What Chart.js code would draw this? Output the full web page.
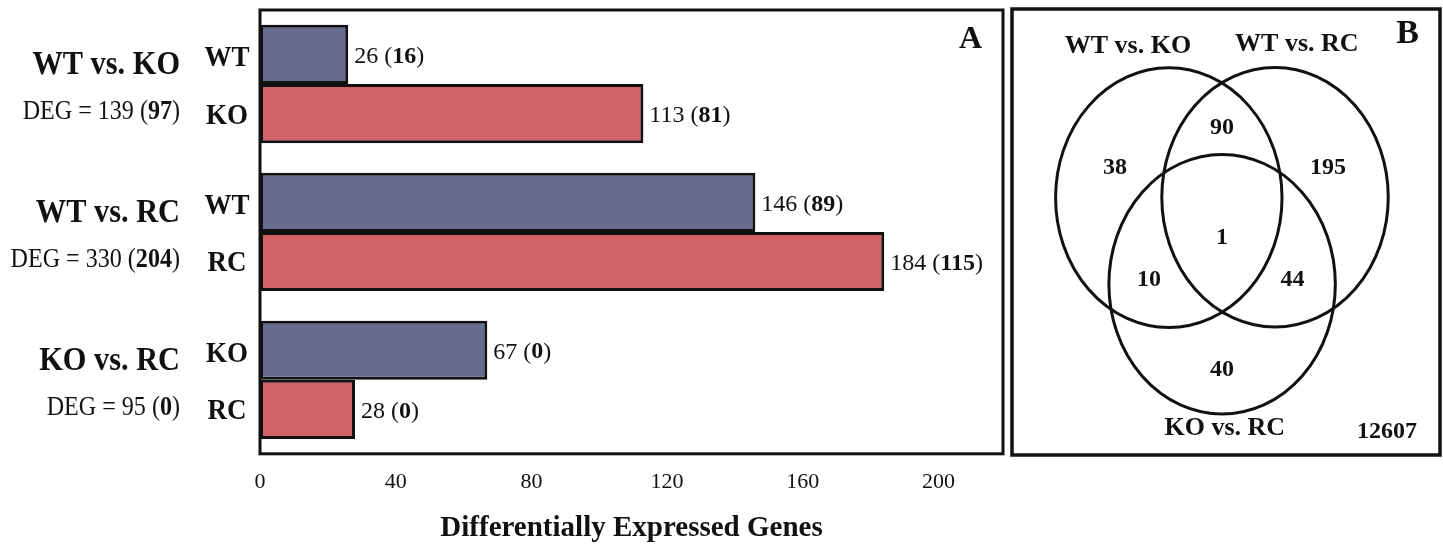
<!DOCTYPE html>
<html>
<head>
<meta charset="utf-8">
<script src="https://cdn.jsdelivr.net/npm/chart.js@4.4.1/dist/chart.umd.min.js"></script>
<style>
  html, body { margin: 0; padding: 0; background: #fff; }
  #wrap { position: relative; width: 1443px; height: 546px; overflow: hidden; }
  #barChart { position: absolute; left: 0; top: 0; }
  #vennChart { position: absolute; left: 1010px; top: 7px; }
</style>
</head>
<body>
<div id="wrap">
  <canvas id="barChart" width="1008" height="546"></canvas>
  <canvas id="vennChart" width="432" height="450"></canvas>
</div>
<script>
// --- Data: panel A ---
const comparisons = ['WT vs. KO', 'WT vs. RC', 'KO vs. RC'];
const firstGroup = ['WT', 'WT', 'KO'];
const secondGroup = ['KO', 'RC', 'RC'];
const firstCounts = [26, 146, 67];
const firstBold = [16, 89, 0];
const secondCounts = [113, 184, 28];
const secondBold = [81, 115, 0];
const degTotals = [139, 330, 95];
const degBold = [97, 204, 0];
const xTicks = [0, 40, 80, 120, 160, 200];

// --- Data: panel B (Venn) ---
const vennSets = ['WT vs. KO', 'WT vs. RC', 'KO vs. RC'];
const vennRegions = [38, 90, 195, 1, 10, 44, 40];
const vennOutside = 12607;

// layout of the Venn (data units of the venn chart)
const vennCenters = [{ x: 40.3, y: 57.7 }, { x: 67.6, y: 57.8 }, { x: 54.0, y: 38.3 }];
const vennRadius = 29.1;
const vennSetPos = [{ x: 29.8, y: 91.7 }, { x: 73.2, y: 92.2 }, { x: 54.7, y: 6.1 }];
const vennRegionPos = [
    { x: 26.5, y: 64.3 }, { x: 54.0, y: 73.3 }, { x: 81.2, y: 64.3 }, { x: 54.0, y: 48.6 },
    { x: 35.2, y: 39.2 }, { x: 72.1, y: 39.2 }, { x: 54.0, y: 19.1 }
];
const vennOutsidePos = { x: 96.4, y: 5.2 };

const SERIF = '"Liberation Serif", "Times New Roman", serif';
const INK = '#111111';

// draws "a (b)" with b in bold, squeezed horizontally by sx
function drawMixed(ctx, x, y, plain, bold, size, align, sx = 1) {
    const normalFont = `${size}px ${SERIF}`;
    const boldFont = `bold ${size}px ${SERIF}`;
    ctx.font = normalFont;
    const w1 = ctx.measureText(plain + ' (').width;
    ctx.font = boldFont;
    const w2 = ctx.measureText(String(bold)).width;
    ctx.font = normalFont;
    const w3 = ctx.measureText(')').width;
    const total = (w1 + w2 + w3) * sx;
    const start = align === 'right' ? x - total : x;
    ctx.save();
    ctx.translate(start, y);
    ctx.scale(sx, 1);
    ctx.textAlign = 'left';
    ctx.font = normalFont;
    ctx.fillText(plain + ' (', 0, 0);
    ctx.font = boldFont;
    ctx.fillText(String(bold), w1, 0);
    ctx.font = normalFont;
    ctx.fillText(')', w1 + w2, 0);
    ctx.restore();
}

function drawSqueezed(ctx, text, x, y, font, align, sx) {
    ctx.save();
    ctx.translate(x, y);
    ctx.scale(sx, 1);
    ctx.font = font;
    ctx.textAlign = align;
    ctx.fillText(text, 0, 0);
    ctx.restore();
}

// --- Panel A plugin: frame, labels ---
const barDecor = {
    id: 'barDecor',
    afterDatasetsDraw(chart) {
        const { ctx, chartArea } = chart;
        const yScale = chart.scales.y;
        ctx.save();
        ctx.fillStyle = INK;

        // frame
        ctx.strokeStyle = INK;
        ctx.lineWidth = 3;
        ctx.strokeRect(chartArea.left, chartArea.top, chartArea.right - chartArea.left, chartArea.bottom - chartArea.top);

        // value labels
        ctx.textBaseline = 'middle';
        const boldSets = [firstBold, secondBold];
        chart.data.datasets.forEach((ds, di) => {
            chart.getDatasetMeta(di).data.forEach((el, i) => {
                drawMixed(ctx, el.x + 6, el.y + 2, String(ds.data[i]), boldSets[di][i], 24, 'left');
            });
        });

        // left side labels
        ctx.textBaseline = 'alphabetic';
        comparisons.forEach((name, i) => {
            const yc = yScale.getPixelForValue(i);
            drawSqueezed(ctx, name, 180, yc - 10, `bold 33px ${SERIF}`, 'right', 0.92);
            drawMixed(ctx, 180, yc + 35, 'DEG = ' + degTotals[i], degBold[i], 28, 'right', 0.86);

            const e0 = chart.getDatasetMeta(0).data[i];
            const e1 = chart.getDatasetMeta(1).data[i];
            drawSqueezed(ctx, firstGroup[i], 227, e0.y + 12, `bold 30px ${SERIF}`, 'center', 0.9);
            drawSqueezed(ctx, secondGroup[i], 227, e1.y + 10, `bold 30px ${SERIF}`, 'center', 0.9);
        });

        // panel letter
        ctx.textAlign = 'right';
        ctx.font = `bold 32px ${SERIF}`;
        ctx.fillText('A', chartArea.right - 21, chartArea.top + 38);
        ctx.restore();
    }
};

new Chart(document.getElementById('barChart'), {
    type: 'bar',
    data: {
        labels: comparisons,
        datasets: [
            { data: firstCounts, backgroundColor: '#666c8e', borderColor: INK, borderWidth: 3, borderSkipped: false },
            { data: secondCounts, backgroundColor: '#d36266', borderColor: INK, borderWidth: 3, borderSkipped: false }
        ]
    },
    options: {
        indexAxis: 'y',
        responsive: false,
        animation: false,
        categoryPercentage: 0.8,
        barPercentage: 1.0,
        layout: { padding: { left: 260, top: 10, right: 5, bottom: 0 } },
        plugins: { legend: { display: false }, tooltip: { enabled: false } },
        scales: {
            x: {
                min: 0,
                max: 219,
                afterBuildTicks(scale) { scale.ticks = xTicks.map(v => ({ value: v })); },
                grid: { display: false, drawTicks: false },
                border: { display: false },
                ticks: { padding: 15, color: INK, font: { family: SERIF, size: 22 } },
                title: {
                    display: true,
                    text: 'Differentially Expressed Genes',
                    color: INK,
                    font: { family: SERIF, size: 29, weight: 'bold' },
                    padding: { top: 1, bottom: 0 }
                }
            },
            y: { display: false }
        }
    },
    plugins: [barDecor]
});

// --- Panel B plugin: circles and counts ---
const vennDecor = {
    id: 'vennDecor',
    afterDatasetsDraw(chart) {
        const { ctx, chartArea } = chart;
        const xs = chart.scales.x, ys = chart.scales.y;
        const px = v => xs.getPixelForValue(v);
        const py = v => ys.getPixelForValue(v);
        ctx.save();
        ctx.strokeStyle = INK;
        ctx.fillStyle = INK;

        ctx.lineWidth = 3.5;
        ctx.strokeRect(chartArea.left, chartArea.top, chartArea.right - chartArea.left, chartArea.bottom - chartArea.top);

        ctx.lineWidth = 3;
        const rx = px(vennRadius) - px(0);
        const ry = py(0) - py(vennRadius);
        chart.data.datasets[0].data.forEach(c => {
            ctx.beginPath();
            ctx.ellipse(px(c.x), py(c.y), rx, ry, 0, 0, Math.PI * 2);
            ctx.stroke();
        });

        ctx.textAlign = 'center';
        ctx.textBaseline = 'middle';
        ctx.font = `bold 26px ${SERIF}`;
        vennSets.forEach((s, i) => ctx.fillText(s, px(vennSetPos[i].x), py(vennSetPos[i].y)));
        ctx.font = `bold 24px ${SERIF}`;
        vennRegions.forEach((n, i) => ctx.fillText(String(n), px(vennRegionPos[i].x), py(vennRegionPos[i].y)));
        ctx.fillText(String(vennOutside), px(vennOutsidePos.x), py(vennOutsidePos.y));

        ctx.textAlign = 'right';
        ctx.textBaseline = 'alphabetic';
        ctx.font = `bold 34px ${SERIF}`;
        ctx.fillText('B', chartArea.right - 21, chartArea.top + 34);
        ctx.restore();
    }
};

new Chart(document.getElementById('vennChart'), {
    type: 'scatter',
    data: {
        datasets: [{ data: vennCenters, pointRadius: 0, showLine: false }]
    },
    options: {
        responsive: false,
        animation: false,
        layout: { padding: 2 },
        plugins: { legend: { display: false }, tooltip: { enabled: false } },
        scales: {
            x: { display: false, min: 0, max: 110 },
            y: { display: false, min: 0, max: 100 }
        }
    },
    plugins: [vennDecor]
});
</script>
</body>
</html>
